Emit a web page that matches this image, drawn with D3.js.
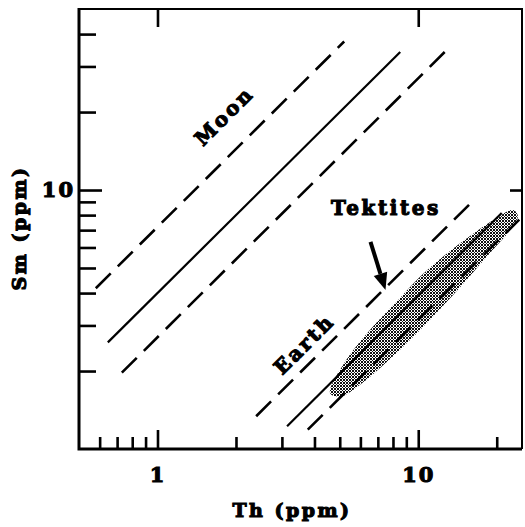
<!DOCTYPE html>
<html>
<head>
<meta charset="utf-8">
<script src="https://cdn.jsdelivr.net/npm/d3@7"></script>
<style>
  html, body { margin: 0; padding: 0; background: #fff; }
  svg { display: block; }
  text { font-family: "DejaVu Serif", serif; font-weight: bold; fill: #000; stroke: #000; stroke-width: 1.1px; }
</style>
</head>
<body>
<svg id="chart" width="525" height="527"></svg>
<script>
// Sm–Th correlation lines (Sm = ratio × Th) and their Th extents
const trendNames = ["Moon high", "Moon", "Moon low", "Earth high", "Earth", "Earth low"];
const smThRatio  = [7.2, 4.0, 2.7, 0.56, 0.39, 0.315];
const thFrom     = [0.58, 0.645, 0.73, 2.39, 3.14, 3.77];
const thTo       = [5.2, 8.53, 13.3, 16.3, 20.9, 24.4];

// outline of the tektite field (Th, Sm in ppm)
const tektiteTh = [4.59, 5.24, 6.53, 8.52, 10.16, 12.67, 15.8, 19.7, 23.1, 24.1, 22.5, 18.4, 13.6, 10.16, 7.59, 5.98, 5.01];
const tektiteSm = [1.645, 2.17, 2.88, 3.83, 4.62, 5.61, 6.64, 7.73, 8.37, 7.94, 7.01, 5.56, 3.93, 2.88, 2.17, 1.77, 1.59];

// axis ticks
const xMajorTicks = [1, 10];
const xMinorTicks = [0.6, 0.7, 0.8, 0.9, 2, 3, 4, 5, 6, 7, 8, 9, 20];
const yMajorTicks = [10];
const yMinorTicks = [2, 3, 4, 5, 6, 7, 8, 9, 20, 30, 40];

// annotation anchors (Th, Sm)
const labelText = ["Moon", "Earth", "Tektites"];
const labelTh   = [1.80, 3.65, 7.52];
const labelSm   = [19.3, 2.54, 8.01];
const arrowTh   = [6.56, 7.49];
const arrowSm   = [6.31, 4.11];

const svg = d3.select("#chart");
const plotL = 79, plotR = 522, plotT = 9, plotB = 449;

const x = d3.scaleLog().domain([0.5, 25]).range([plotL, plotR]);
const y = d3.scaleLog().domain([1, 50]).range([plotB, plotT]);

// crosshatched halftone screen for the tektite field
const defs = svg.append("defs");
const pat = defs.append("pattern").attr("id", "screen")
  .attr("patternUnits", "userSpaceOnUse").attr("width", 3).attr("height", 3);
pat.append("rect").attr("width", 3).attr("height", 3).attr("fill", "#fff");
for (let i = 0; i < 3; i++) for (let j = 0; j < 3; j++) {
  if ((i + j) % 3 === 0 || (i - j + 3) % 3 === 0) {
    pat.append("rect").attr("x", i).attr("y", j).attr("width", 1).attr("height", 1).attr("fill", "#111");
  }
}

// tektite field
const field = tektiteTh.map((t, i) => [x(t), y(tektiteSm[i])]);
svg.append("path")
  .attr("d", d3.line().curve(d3.curveCatmullRomClosed.alpha(0.5))(field))
  .attr("fill", "url(#screen)");

// correlation lines
const line = d3.line().x(d => x(d[0])).y(d => y(d[1]));
trendNames.forEach((name, i) => {
  const pts = [[thFrom[i], thFrom[i] * smThRatio[i]], [thTo[i], thTo[i] * smThRatio[i]]];
  const dashed = name.endsWith("high") || name.endsWith("low");
  svg.append("path")
    .attr("d", line(pts))
    .attr("fill", "none")
    .attr("stroke", "#000")
    .attr("stroke-width", dashed ? 2.6 : 2.2)
    .attr("stroke-dasharray", dashed ? "21 10" : null);
});

// axes with inward ticks
function ticks(axisFn, values, size, fmt, pad) {
  return axisFn.tickValues(values).tickSize(-size).tickSizeOuter(0)
    .tickFormat(fmt || (() => "")).tickPadding(pad || 0);
}
const gx = svg.append("g").attr("transform", `translate(0,${plotB})`);
gx.append("g").call(ticks(d3.axisBottom(x), xMinorTicks, 12));
gx.append("g").call(ticks(d3.axisBottom(x), xMajorTicks, 19, d3.format("d"), 18));
const gy = svg.append("g").attr("transform", `translate(${plotL},0)`);
gy.append("g").call(ticks(d3.axisLeft(y), yMinorTicks, 17));
gy.append("g").call(ticks(d3.axisLeft(y), yMajorTicks, 23, d3.format("d"), 4));
svg.append("g").attr("transform", `translate(0,${plotT})`)
  .call(ticks(d3.axisTop(x), xMajorTicks, 18));
svg.append("g").attr("transform", `translate(${plotR},0)`)
  .call(ticks(d3.axisRight(y), yMajorTicks, 12));

svg.selectAll(".domain").remove();
svg.selectAll(".tick line").attr("stroke", "#000").attr("stroke-width", 2.6);
svg.selectAll(".tick text").attr("font-size", 21).attr("fill", "#000")
  .attr("font-family", "DejaVu Serif").attr("font-weight", "bold").attr("letter-spacing", 2);

// frame
svg.append("path")
  .attr("d", `M${plotL},${plotT}H${plotR}V${plotB}`)
  .attr("fill", "none").attr("stroke", "#000").attr("stroke-width", 2);
svg.append("path")
  .attr("d", `M${plotL},${plotT - 1}V${plotB}H${plotR}`)
  .attr("fill", "none").attr("stroke", "#000").attr("stroke-width", 3);

// axis titles
svg.append("text").attr("x", 292).attr("y", 517).attr("text-anchor", "middle")
  .attr("font-size", 19).attr("letter-spacing", 2.5).text("Th (ppm)");
svg.append("text").attr("transform", "translate(26,228) rotate(-90)")
  .attr("text-anchor", "middle").attr("font-size", 19).attr("letter-spacing", 2.5).text("Sm (ppm)");

// region labels
labelText.forEach((t, i) => {
  const px = x(labelTh[i]), py = y(labelSm[i]);
  const rot = t === "Tektites" ? 0 : -45;
  svg.append("text")
    .attr("transform", `translate(${px},${py}) rotate(${rot})`)
    .attr("text-anchor", "middle").attr("dy", rot ? "0.35em" : 0)
    .attr("font-size", 20).attr("letter-spacing", 2.6).text(t);
});

// arrow pointing at the tektite field
const a0 = [x(arrowTh[0]), y(arrowSm[0])], a1 = [x(arrowTh[1]), y(arrowSm[1])];
const ang = Math.atan2(a1[1] - a0[1], a1[0] - a0[0]);
const headLen = 17, headW = 7;
const base = [a1[0] - headLen * Math.cos(ang), a1[1] - headLen * Math.sin(ang)];
svg.append("line").attr("x1", a0[0]).attr("y1", a0[1]).attr("x2", base[0]).attr("y2", base[1])
  .attr("stroke", "#000").attr("stroke-width", 4);
svg.append("path")
  .attr("d", `M${a1[0]},${a1[1]}L${base[0] + headW * Math.sin(ang)},${base[1] - headW * Math.cos(ang)}L${base[0] - headW * Math.sin(ang)},${base[1] + headW * Math.cos(ang)}Z`)
  .attr("fill", "#000");
</script>
</body>
</html>
